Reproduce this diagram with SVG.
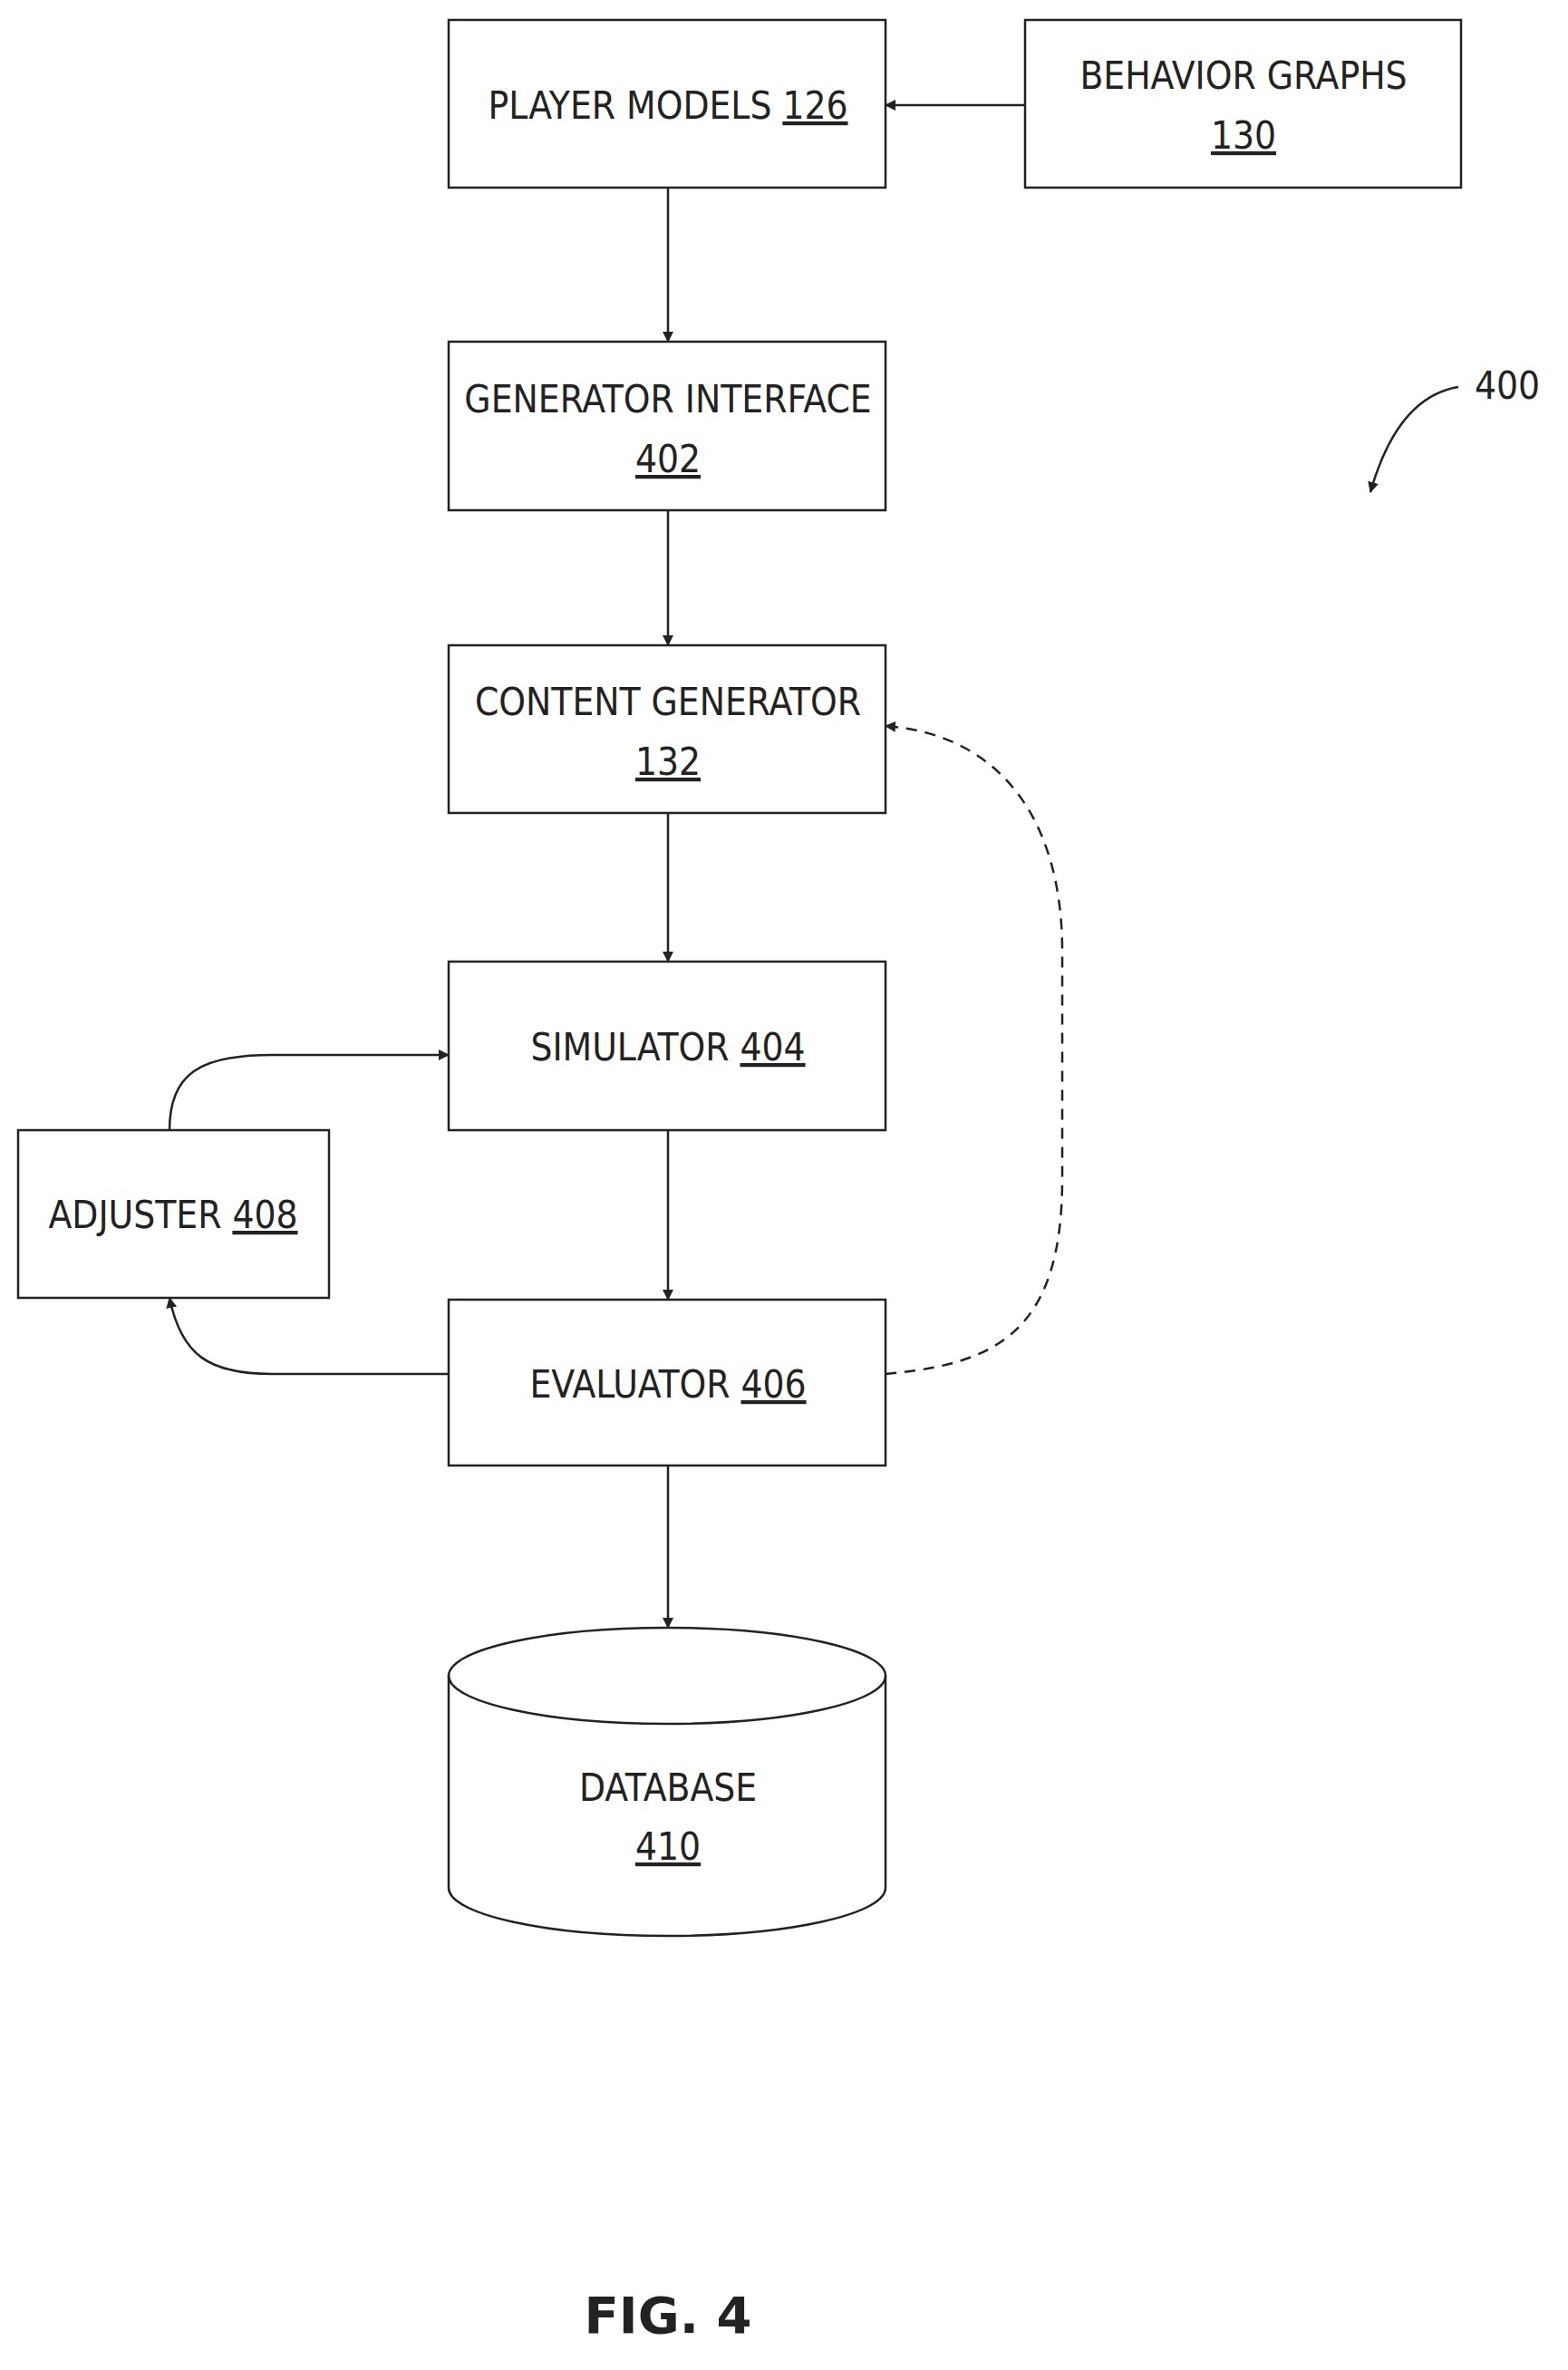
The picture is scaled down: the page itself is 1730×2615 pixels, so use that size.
<svg xmlns="http://www.w3.org/2000/svg" width="1730" height="2615" viewBox="0 0 1730 2615">
<defs><marker id="ah" markerWidth="12" markerHeight="12" refX="11" refY="6" orient="auto" markerUnits="userSpaceOnUse"><path d="M0,0 L12,6 L0,12 Z" fill="#222"/></marker>
<style>
rect,.db{fill:#fff;stroke:#222;stroke-width:2.5}
text{font-family:"DejaVu Sans Condensed","DejaVu Sans",sans-serif;font-size:42px;fill:#222;text-anchor:middle}
.u{text-decoration:underline}
.c{fill:none;stroke:#222;stroke-width:2.5;marker-end:url(#ah)}
</style></defs>
<rect width="1730" height="2615" style="fill:#fff;stroke:none"/>
<g id="player"><rect x="495" y="22" width="482" height="185"/><text x="737" y="131">PLAYER MODELS <tspan class="u">126</tspan></text></g>
<g id="behavior"><rect x="1131" y="22" width="481" height="185"/><text x="1372" y="98">BEHAVIOR GRAPHS</text><text x="1372" y="164" class="u">130</text></g>
<g id="gen"><rect x="495" y="377" width="482" height="186"/><text x="737" y="455">GENERATOR INTERFACE</text><text x="737" y="521" class="u">402</text></g>
<g id="content"><rect x="495" y="712" width="482" height="185"/><text x="737" y="789">CONTENT GENERATOR</text><text x="737" y="855" class="u">132</text></g>
<g id="sim"><rect x="495" y="1061" width="482" height="186"/><text x="737" y="1170">SIMULATOR <tspan class="u">404</tspan></text></g>
<g id="adj"><rect x="20" y="1247" width="343" height="185"/><text x="191" y="1355">ADJUSTER <tspan class="u">408</tspan></text></g>
<g id="eval"><rect x="495" y="1434" width="482" height="183"/><text x="737" y="1542">EVALUATOR <tspan class="u">406</tspan></text></g>
<g id="db"><path class="db" d="M495,1849 A241,53 0 0 1 977,1849 L977,2083 A241,53 0 0 1 495,2083 Z"/><path class="db" style="fill:none" d="M495,1849 A241,53 0 0 0 977,1849"/><text x="737" y="1987">DATABASE</text><text x="737" y="2052" class="u">410</text></g>
<g id="ref400"><text x="1663" y="440">400</text><path class="c" d="M1609,427 C1560,435 1530,480 1512,543"/></g>
<text x="737" y="2574" style="font-family:'DejaVu Sans',sans-serif;font-weight:bold;font-size:56px">FIG. 4</text>
<g id="connectors">
<path class="c" d="M737,207 L737,377"/>
<path class="c" d="M1131,116 L977,116"/>
<path class="c" d="M737,563 L737,712"/>
<path class="c" d="M737,897 L737,1061"/>
<path class="c" d="M737,1247 L737,1434"/>
<path class="c" d="M737,1617 L737,1796"/>
<path class="c" d="M187,1247 C187,1185 220,1164 300,1164 L495,1164"/>
<path class="c" d="M495,1516 L300,1516 C230,1516 200,1495 187,1432"/>
<path class="c" style="stroke-dasharray:12,9" d="M977,1516 C1100,1505 1172,1470 1172,1300 L1172,1050 C1172,900 1100,810 977,801"/>
</g>
</svg>
